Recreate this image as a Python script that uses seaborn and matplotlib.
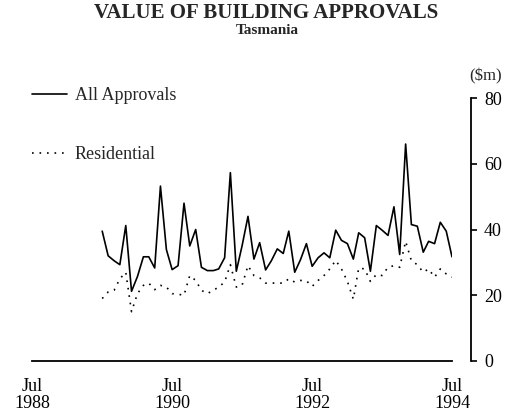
import pandas as pd
import matplotlib.pyplot as plt
import seaborn as sns

# Monthly value of building approvals, Tasmania ($m), Jul 1989 - Jul 1994
months = pd.date_range("1989-07-01", "1994-07-01", freq="MS")

all_approvals = [
    39.5, 32.0, 30.5, 29.3, 41.2, 21.2, 25.7, 31.7, 31.7, 28.3, 53.2, 33.9,
    27.8, 29.0, 48.0, 35.0, 40.0, 28.5, 27.5, 27.5, 28.0, 31.4, 57.3, 27.3,
    35.0, 44.0, 31.0, 36.0, 27.7, 30.5, 34.1, 32.7, 39.5, 27.0, 30.8, 35.7,
    28.8, 31.4, 32.9, 31.4, 39.8, 36.7, 35.7, 31.0, 39.0, 37.5, 27.3, 41.2,
    39.8, 38.2, 46.9, 32.4, 66.0, 41.5, 41.0, 33.1, 36.4, 35.7, 42.2, 39.5,
    31.7,
]
residential = [
    19.0, 21.0, 21.5, 25.0, 27.0, 15.0, 20.5, 23.0, 23.7, 21.7, 23.0, 22.5,
    20.5, 20.3, 20.0, 26.0, 24.5, 21.5, 20.5, 21.5, 22.5, 24.0, 29.3, 22.5,
    23.0, 29.0, 26.0, 25.3, 23.7, 23.7, 23.7, 23.7, 25.0, 24.0, 24.5, 24.4,
    22.7, 24.5, 26.0, 28.0, 30.6, 28.0, 24.2, 18.8, 28.3, 28.0, 24.2, 26.3,
    26.0, 28.5, 29.0, 28.5, 36.4, 30.5, 29.3, 27.0, 28.0, 25.5, 28.0, 26.5,
    25.5,
]
series_names = ["All Approvals", "Residential"]
tick_dates = ["1988-07-01", "1990-07-01", "1992-07-01", "1994-07-01"]
tick_labels = ["Jul\n1988", "Jul\n1990", "Jul\n1992", "Jul\n1994"]
y_ticks = [0, 20, 40, 60, 80]

df = pd.concat([
    pd.DataFrame({"month": months, "value": all_approvals, "series": series_names[0]}),
    pd.DataFrame({"month": months, "value": residential, "series": series_names[1]}),
])

sns.set_theme(style="white")
plt.rcParams["font.family"] = ["Liberation Serif", "DejaVu Serif"]

fig = plt.figure(figsize=(5.07, 4.12), dpi=100)
ax = fig.add_axes([0.0637, 0.1238, 0.8278, 0.6383])

sns.lineplot(
    data=df, x="month", y="value", hue="series", style="series",
    palette=["black", "black"],
    dashes={"All Approvals": "", "Residential": (1, 3.5)},
    linewidth=1.2, ax=ax,
)

ax.set_xlim(pd.Timestamp("1988-07-01"), pd.Timestamp("1994-07-01"))
ax.set_ylim(0, 80)
ax.set_xlabel("")
ax.set_ylabel("")

ax.set_xticks(pd.to_datetime(tick_dates))
ax.set_xticklabels(tick_labels, fontsize=13, linespacing=1.05)
ax.set_yticks(y_ticks)
ax.yaxis.tick_right()
ax.tick_params(axis="y", labelsize=13, direction="out", length=4, width=1.2,
               pad=5, colors="black")
ax.tick_params(axis="x", direction="out", length=4, width=1.2, pad=8,
               colors="black")

for side in ["top", "left"]:
    ax.spines[side].set_visible(False)
for side in ["bottom", "right"]:
    ax.spines[side].set_color("black")
    ax.spines[side].set_linewidth(1.3)
ax.spines["right"].set_position(("outward", 14))

sns.move_legend(
    ax, "upper left", bbox_to_anchor=(0.0, 1.04), frameon=False, title=None,
    fontsize=13, handlelength=1.9, handletextpad=0.45, labelspacing=2.3,
    borderpad=0, borderaxespad=0,
)

fig.text(0.525, 1 - 13 / 412, "VALUE OF BUILDING APPROVALS", ha="center",
         va="center", fontsize=15, fontweight="bold")
fig.text(0.528, 1 - 31 / 412, "Tasmania", ha="center", va="center",
         fontsize=11, fontweight="bold")
fig.text(486 / 507, 1 - 76 / 412, "($m)", ha="center", va="center", fontsize=12)

fig.savefig("out.png", dpi=100)
